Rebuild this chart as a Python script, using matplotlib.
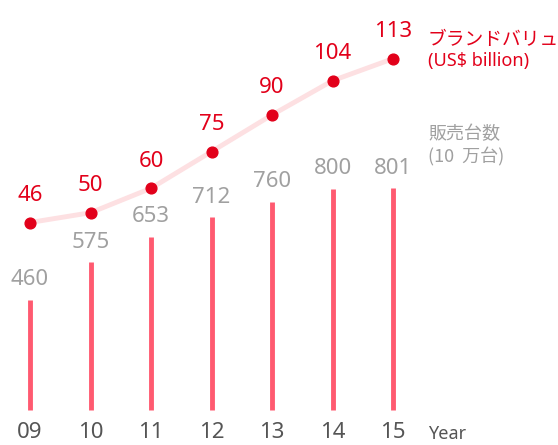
import matplotlib
matplotlib.use("Agg")
import matplotlib.pyplot as plt

# data
years = ["09", "10", "11", "12", "13", "14", "15"]
units = [460, 575, 653, 712, 760, 800, 801]          # 10万台
brand_value = [46, 50, 60, 75, 90, 104, 113]         # US$ billion

RED = "#e2001a"
BAR = "#ff5a70"
LINE = "#fde0e2"
GRAY = "#a0a0a0"
TICK = "#555555"

plt.rcParams['font.family'] = ['Noto Sans', 'Noto Sans CJK JP']

fig = plt.figure(figsize=(5.58, 4.45), dpi=100)
ax = fig.add_axes([0, 0, 1, 1])
ax2 = ax.twinx()

x = list(range(len(years)))

# sales bars (thin vertical lines from a common baseline)
base = 125
ax.vlines(x, base, units, color=BAR, linewidth=3.5)
for xi, v in zip(x, units):
    ax.annotate(str(v), (xi, v), xytext=(0, 7), textcoords="offset points",
                ha="center", va="bottom", color=GRAY, fontsize=16)

ax.set_xlim(-0.496, 8.727)
ax.set_ylim(18, 1375)

# brand value line
ax2.plot(x, brand_value, color=LINE, linewidth=3.5, zorder=1)
ax2.scatter(x, brand_value, color=RED, s=60, zorder=2)
for xi, v in zip(x, brand_value):
    ax2.annotate(str(v), (xi, v), xytext=(0, 12), textcoords="offset points",
                 ha="center", va="bottom", color=RED, fontsize=16)
ax2.set_ylim(-45, 137)

# year labels
for xi, yr in zip(x, years):
    ax.text(xi, 0.028, yr, transform=ax.get_xaxis_transform(),
            ha="center", va="center", color=TICK, fontsize=16)
ax.text(6.58, 0.024, "Year", transform=ax.get_xaxis_transform(),
        ha="left", va="center", color=TICK, fontsize=13)

# series labels
ax.text(428 / 558, 1 - 40 / 445, "ブランドバリュー", transform=ax.transAxes,
        ha="left", va="center", color=RED, fontsize=13.5,
        family=['Noto Sans CJK JP', 'DejaVu Sans'])
ax.text(428 / 558, 1 - 61 / 445, "(US$ billion)", transform=ax.transAxes,
        ha="left", va="center", color=RED, fontsize=13)
ax.text(428 / 558, 1 - 134 / 445, "販売台数", transform=ax.transAxes,
        ha="left", va="center", color=GRAY, fontsize=13,
        family=['Noto Sans CJK JP', 'DejaVu Sans'])
ax.text(428 / 558, 1 - 157 / 445, "(10  万台)", transform=ax.transAxes,
        ha="left", va="center", color=GRAY, fontsize=13,
        family=['Noto Sans CJK JP', 'DejaVu Sans'])

for a in (ax, ax2):
    a.axis("off")

fig.savefig("out.png", dpi=100)
